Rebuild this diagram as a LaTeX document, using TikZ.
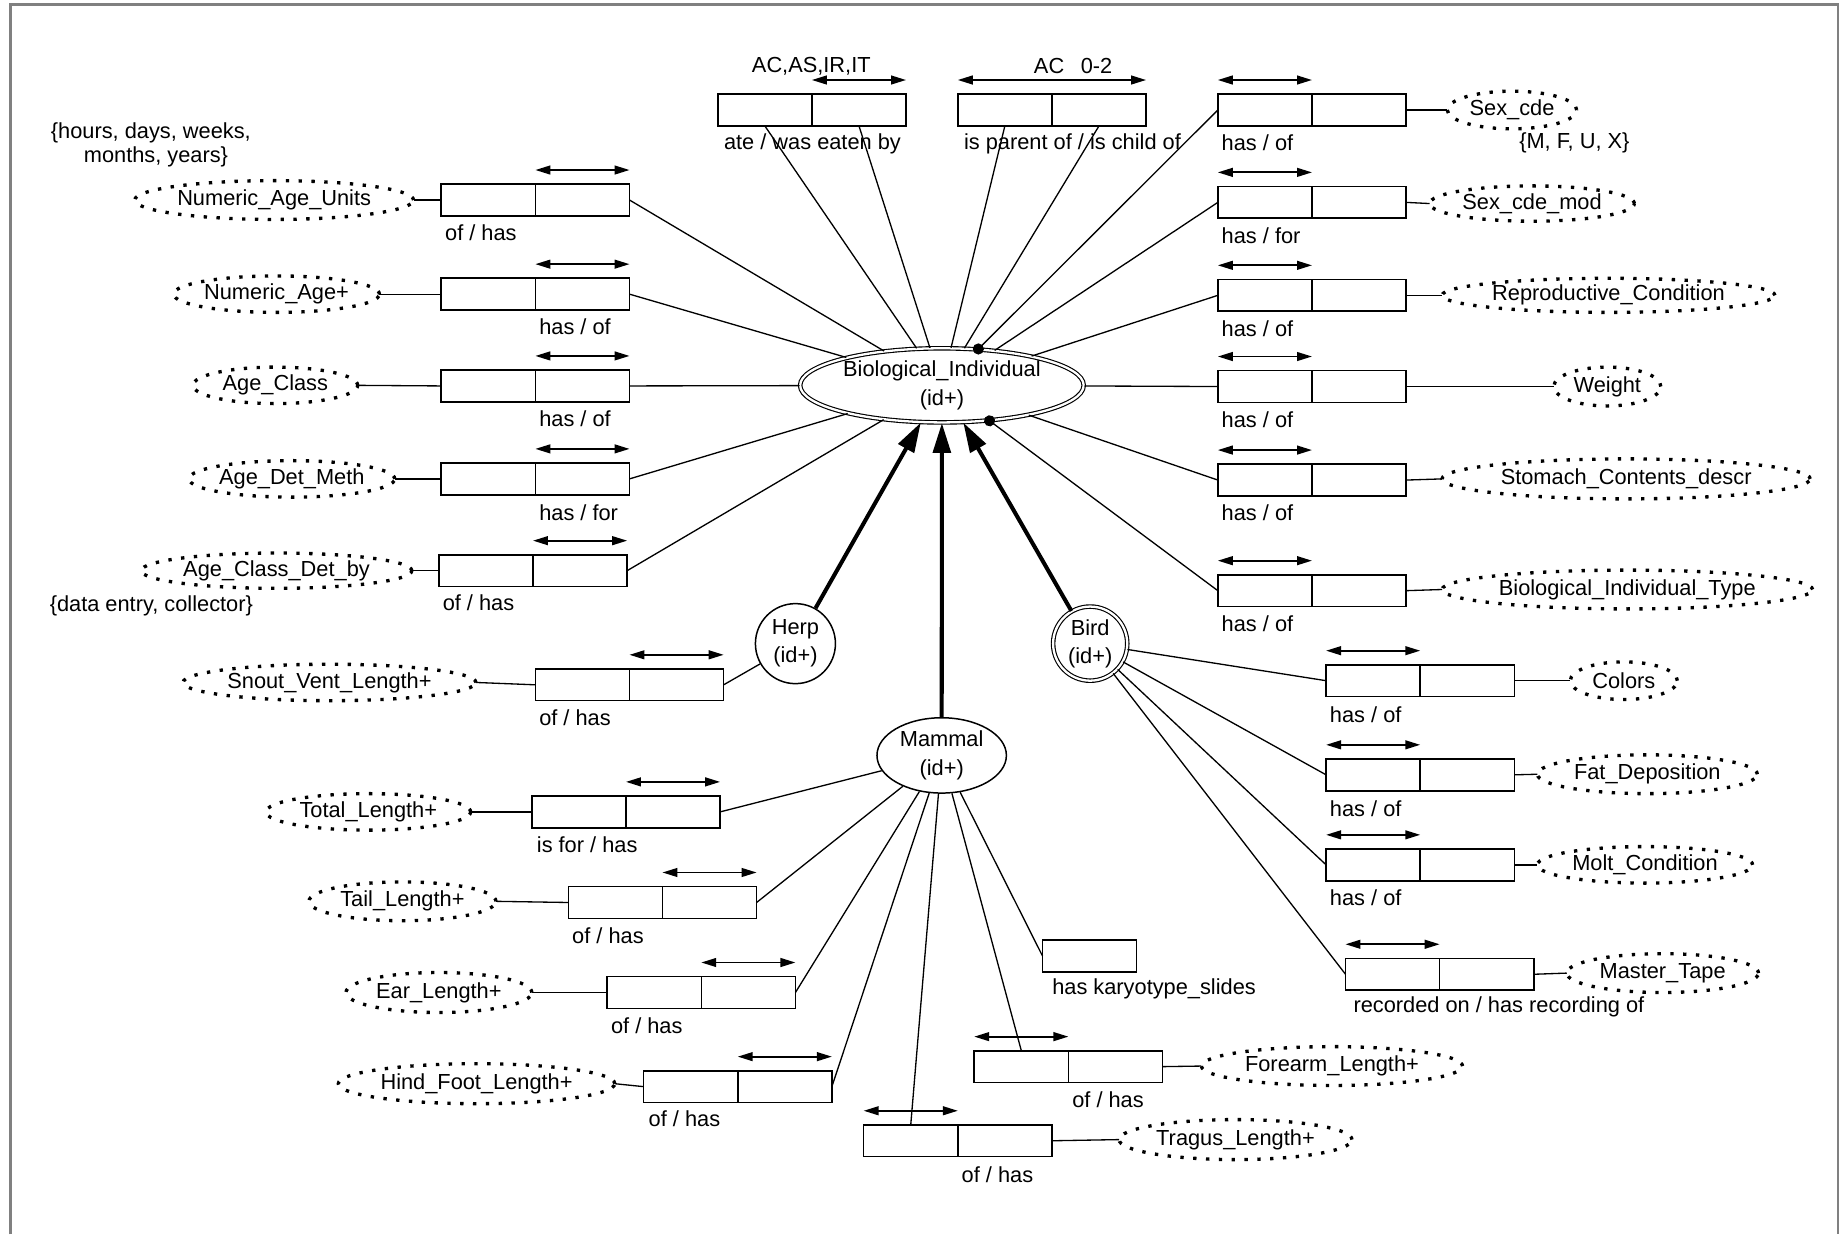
\documentclass[tikz,border=0pt]{standalone}
\usepackage{fontspec}
\setmainfont{Liberation Sans}
\usetikzlibrary{arrows.meta,shapes.geometric,calc}
\newcommand\uu{0.023533cm}
\definecolor{framegray}{RGB}{128,128,128}
\tikzset{
  every node/.append style={font=\fontsize{12.4}{16}\selectfont},
  ln/.style={line width=0.75pt},
  relbox/.style={draw, line width=0.9pt, minimum width=160*\uu, minimum height=27*\uu, inner sep=0pt, outer sep=0pt},
  attr/.style={draw, ellipse, line width=1.9pt, dash pattern=on 1.9pt off 5.4pt, inner sep=0pt, outer sep=0pt},
  lbl/.style={anchor=west, inner sep=0pt},
  note/.style={inner sep=0pt},
  biarr/.style={line width=1pt, {Triangle[length=8.5pt,width=5pt]}-{Triangle[length=8.5pt,width=5pt]}},
  isa/.style={line width=2.3pt, -{Triangle[length=17pt,width=10pt]}},
  must/.style={ln, -{Circle[length=6.3pt]}, shorten >=-3.15pt},
  ent/.style={draw, line width=0.85pt, align=center, inner sep=0pt},
  dbl/.style={line width=0.65pt, double=white, double distance=1.3pt},
}
\newcommand\mkrel[3]{\node[relbox] (#1) at (#2,#3) {};\draw[line width=0.9pt] (#1.north) -- (#1.south);}
\newcommand\arR[1]{\draw[biarr] ($(#1.north)+(0,-12)$) -- ($(#1.north east)+(0,-12)$);}
\newcommand\arL[1]{\draw[biarr] ($(#1.north west)+(0,-12)$) -- ($(#1.north)+(0,-12)$);}
\newcommand\mklbl[4]{\node[lbl] (#1) at (#2,#3) {#4};}
\begin{document}
\begin{tikzpicture}[x=0.023533cm, y=-0.023533cm]
\useasboundingbox (0,0) rectangle (1568,1049);
\draw[framegray, line width=1.4pt] (9,1049) -- (9,4) -- (1562,4) -- (1562,1049);

% entities
\node[ent, ellipse, dbl, minimum width=241*\uu, minimum height=63*\uu] (bio) at (800.5,327.5) {\raisebox{-2pt}{Biological\_Individual}\\\raisebox{-2pt}{(id+)}};
\node[ent, circle, minimum size=68*\uu] (herp) at (676,547) {Herp\\(id+)};
\node[ent, circle, dbl, minimum size=63*\uu] (bird) at (926.5,547) {Bird\\(id+)};
\node[ent, ellipse, minimum width=110*\uu, minimum height=64*\uu] (mam) at (800.3,642) {Mammal\\(id+)};

\draw[isa] (herp) -- (bio);
\draw[isa] (mam) -- (bio);
\draw[isa] (bird) -- (bio);

% top recursive relations
\mkrel{r_ate}{690}{93.5}
\draw[biarr] ($(r_ate.north)+(0,-12)$) -- ($(r_ate.north east)+(0,-12)$);
\node (t_ate) at (689.5,56) {AC,AS,IR,IT};
\mklbl{l_ate}{615}{122}{ate / was eaten by}
\mkrel{r_par}{894}{93.5}
\draw[biarr] ($(r_par.north west)+(0,-12)$) -- ($(r_par.north east)+(0,-12)$);
\node (t_par) at (912,56) {AC\hspace{9.4pt}0-2};
\mklbl{l_par}{819}{122}{is parent of / is child of}
\draw[ln] ($(r_ate.south west)!0.25!(r_ate.south east)$) -- (bio);
\draw[ln] ($(r_ate.south west)!0.75!(r_ate.south east)$) -- (bio);
\draw[ln] ($(r_par.south west)!0.25!(r_par.south east)$) -- (bio);
\draw[ln] ($(r_par.south west)!0.75!(r_par.south east)$) -- (bio);

% right column
\mkrel{r_sex}{1115}{93.5}\arL{r_sex}
\node[attr, minimum width=110*\uu, minimum height=32*\uu] (a_sex) at (1285,93.5) {Sex\_cde};
\mklbl{l_sex}{1038}{121.5}{has / of}
\node (n_sex) at (1338,121) {\{M, F, U, X\}};
\draw[ln] (r_sex.east) -- (a_sex.west);
\draw[must] (r_sex.west) -- (bio);

\mkrel{r_sexm}{1115}{172}\arL{r_sexm}
\node[attr, minimum width=174*\uu, minimum height=30*\uu] (a_sexm) at (1302,173) {Sex\_cde\_mod};
\mklbl{l_sexm}{1038}{200}{has / for}
\draw[ln] (r_sexm.east) -- (a_sexm.west);
\draw[ln] (r_sexm.west) -- (bio);

\mkrel{r_rep}{1115}{251}\arL{r_rep}
\node[attr, minimum width=283*\uu, minimum height=29*\uu] (a_rep) at (1367,251) {Reproductive\_Condition};
\mklbl{l_rep}{1038}{279}{has / of}
\draw[ln] (r_rep.east) -- (a_rep.west);
\draw[ln] (r_rep.west) -- (bio);

\mkrel{r_wt}{1115}{328.5}\arL{r_wt}
\node[attr, minimum width=91*\uu, minimum height=33*\uu] (a_wt) at (1366,328.5) {Weight};
\mklbl{l_wt}{1038}{356.5}{has / of}
\draw[ln] (r_wt.east) -- (a_wt.west);
\draw[ln] (r_wt.west) -- (bio);

\mkrel{r_sto}{1115}{408}\arL{r_sto}
\node[attr, minimum width=313*\uu, minimum height=34*\uu] (a_sto) at (1382,407) {Stomach\_Contents\_descr};
\mklbl{l_sto}{1038}{436}{has / of}
\draw[ln] (r_sto.east) -- (a_sto.west);
\draw[ln] (r_sto.west) -- (bio);

\mkrel{r_bit}{1115}{502}\arL{r_bit}
\node[attr, minimum width=315*\uu, minimum height=33*\uu] (a_bit) at (1383,501) {Biological\_Individual\_Type};
\mklbl{l_bit}{1038}{530}{has / of}
\draw[ln] (r_bit.east) -- (a_bit.west);
\draw[must] (r_bit.west) -- (bio);

% left column
\node[note, anchor=west] (n_hrs) at (43,113) {\{hours, days, weeks,};
\node[note, anchor=west] (n_mon) at (71,133) {months, years\}};
\mkrel{r_nau}{455}{170}\arR{r_nau}
\node[attr, minimum width=237*\uu, minimum height=33*\uu] (a_nau) at (233,170) {Numeric\_Age\_Units};
\mklbl{l_nau}{378}{198}{of / has}
\draw[ln] (a_nau.east) -- (r_nau.west);
\draw[ln] (r_nau.east) -- (bio);

\mkrel{r_nap}{455}{250}\arR{r_nap}
\node[attr, minimum width=175*\uu, minimum height=31*\uu] (a_nap) at (235,250) {Numeric\_Age+};
\mklbl{l_nap}{458}{278}{has / of}
\draw[ln] (a_nap.east) -- (r_nap.west);
\draw[ln] (r_nap.east) -- (bio);

\mkrel{r_acl}{455}{328}\arR{r_acl}
\node[attr, minimum width=140*\uu, minimum height=31*\uu] (a_acl) at (234,327.5) {Age\_Class};
\mklbl{l_acl}{458}{356}{has / of}
\draw[ln] (a_acl.east) -- (r_acl.west);
\draw[ln] (r_acl.east) -- (bio);

\mkrel{r_adm}{455}{407}\arR{r_adm}
\node[attr, minimum width=175*\uu, minimum height=31*\uu] (a_adm) at (248,407) {Age\_Det\_Meth};
\mklbl{l_adm}{458}{436}{has / for}
\draw[ln] (a_adm.east) -- (r_adm.west);
\draw[ln] (r_adm.east) -- (bio);

\mkrel{r_acd}{453}{485}\arR{r_acd}
\node[attr, minimum width=230*\uu, minimum height=30*\uu] (a_acd) at (235,485) {Age\_Class\_Det\_by};
\mklbl{l_acd}{376}{512}{of / has}
\node[note, anchor=west] (n_acd) at (42,515) {\{data entry, collector\}};
\draw[ln] (a_acd.east) -- (r_acd.west);
\draw[ln] (r_acd.east) -- (bio);

% herp
\mkrel{r_svl}{535}{582}\arR{r_svl}
\node[attr, minimum width=249*\uu, minimum height=31*\uu] (a_svl) at (280,580) {Snout\_Vent\_Length+};
\mklbl{l_svl}{458}{610}{of / has}
\draw[ln] (a_svl.east) -- (r_svl.west);
\draw[ln] (r_svl.east) -- (herp);

% mammal
\mkrel{r_tot}{532}{690}\arR{r_tot}
\node[attr, minimum width=174*\uu, minimum height=31*\uu] (a_tot) at (313,690) {Total\_Length+};
\mklbl{l_tot}{456}{718}{is for / has}
\draw[ln] (a_tot.east) -- (r_tot.west);
\draw[ln] (r_tot.east) -- (mam);

\mkrel{r_tai}{563}{767}\arR{r_tai}
\node[attr, minimum width=159*\uu, minimum height=33*\uu] (a_tai) at (342,766) {Tail\_Length+};
\mklbl{l_tai}{486}{795}{of / has}
\draw[ln] (a_tai.east) -- (r_tai.west);
\draw[ln] (r_tai.east) -- (mam);

\mkrel{r_ear}{596}{843.5}\arR{r_ear}
\node[attr, minimum width=158*\uu, minimum height=34*\uu] (a_ear) at (373,843.5) {Ear\_Length+};
\mklbl{l_ear}{519}{872}{of / has}
\draw[ln] (a_ear.east) -- (r_ear.west);
\draw[ln] (r_ear.east) -- (mam);

\mkrel{r_hfl}{627}{923.5}\arR{r_hfl}
\node[attr, minimum width=235*\uu, minimum height=34*\uu] (a_hfl) at (405,921) {Hind\_Foot\_Length+};
\mklbl{l_hfl}{551}{951}{of / has}
\draw[ln] (a_hfl.east) -- (r_hfl.west);
\draw[ln] (r_hfl.east) -- (mam);

\node[relbox, minimum width=80*\uu] (r_kar) at (926,812.5) {};
\mklbl{l_kar}{894}{840}{has karyotype\_slides}
\draw[ln] (r_kar.west) -- (mam);

\mkrel{r_for}{908}{906.5}\arL{r_for}
\node[attr, minimum width=222*\uu, minimum height=33*\uu] (a_for) at (1132,906) {Forearm\_Length+};
\mklbl{l_for}{911}{935}{of / has}
\draw[ln] (r_for.east) -- (a_for.west);
\draw[ln] ($(r_for.north west)!0.25!(r_for.north east)$) -- (mam);

\mkrel{r_tra}{814}{969.5}\arL{r_tra}
\node[attr, minimum width=198*\uu, minimum height=34*\uu] (a_tra) at (1050,968.5) {Tragus\_Length+};
\mklbl{l_tra}{817}{998}{of / has}
\draw[ln] (r_tra.east) -- (a_tra.west);
\draw[ln] ($(r_tra.north west)!0.25!(r_tra.north east)$) -- (mam);

% bird
\mkrel{r_col}{1207}{578.5}\arL{r_col}
\node[attr, minimum width=91*\uu, minimum height=32*\uu] (a_col) at (1380,578.5) {Colors};
\mklbl{l_col}{1130}{607}{has / of}
\draw[ln] (r_col.east) -- (a_col.west);
\draw[ln] (r_col.west) -- (bird);

\mkrel{r_fat}{1207}{658.5}\arL{r_fat}
\node[attr, minimum width=187*\uu, minimum height=33*\uu] (a_fat) at (1400,658) {Fat\_Deposition};
\mklbl{l_fat}{1130}{687}{has / of}
\draw[ln] (r_fat.east) -- (a_fat.west);
\draw[ln] (r_fat.west) -- (bird);

\mkrel{r_mol}{1207}{735}\arL{r_mol}
\node[attr, minimum width=183*\uu, minimum height=31*\uu] (a_mol) at (1398,735) {Molt\_Condition};
\mklbl{l_mol}{1130}{763}{has / of}
\draw[ln] (r_mol.east) -- (a_mol.west);
\draw[ln] (r_mol.west) -- (bird);

\mkrel{r_mas}{1223.5}{828}\arL{r_mas}
\node[attr, minimum width=163*\uu, minimum height=33*\uu] (a_mas) at (1413,827) {Master\_Tape};
\mklbl{l_mas}{1150}{856}{recorded on / has recording of}
\draw[ln] (r_mas.east) -- (a_mas.west);
\draw[ln] (r_mas.west) -- (bird);
\end{tikzpicture}
\end{document}
